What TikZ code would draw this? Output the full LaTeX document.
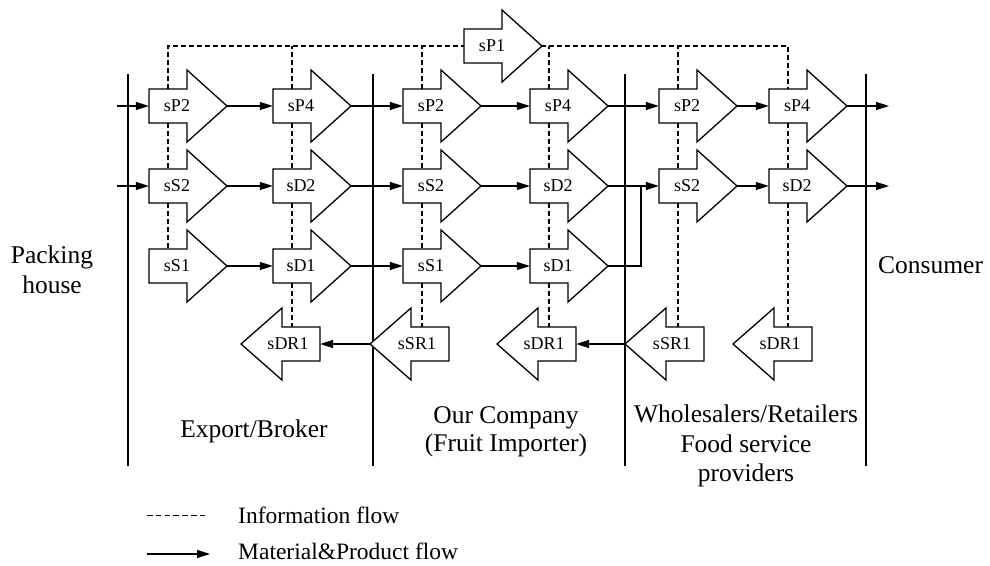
\documentclass[tikz,border=0pt]{standalone}
\usepackage{fontspec}
\setmainfont{Liberation Serif}
\usetikzlibrary{arrows.meta}
\tikzset{
 flow/.style={line width=1.3pt, -{Triangle[length=13pt,width=8pt]}},
 plain/.style={line width=1.3pt},
 info/.style={line width=1.2pt, dash pattern=on 5pt off 3pt},
 bar/.style={line width=1.3pt},
 arrshape/.style={draw, line width=1.3pt, fill=white, line join=miter},
 bodybox/.style={inner sep=0pt, minimum width=38pt, minimum height=34pt},
 lbl/.style={font=\fontsize{18}{20}\selectfont, inner sep=0pt},
 sec/.style={font=\fontsize{25.5}{30}\selectfont, inner sep=0pt},
 leg/.style={font=\fontsize{23.5}{26}\selectfont, inner sep=0pt},
}
% right-pointing block arrow: name, left x, centre y, label
\newcommand\RArr[4]{%
 \draw[arrshape] (#2,#3-17) -- (#2+38,#3-17) -- (#2+38,#3-36) -- (#2+78,#3)
   -- (#2+38,#3+36) -- (#2+38,#3+17) -- (#2,#3+17) -- cycle;
 \node[bodybox] (#1) at (#2+19,#3) {};
 \coordinate (#1-tip) at (#2+78,#3);
 \node[lbl] (#1-l) at (#2+28,#3) {#4};
}
% left-pointing block arrow: name, right x, centre y, label
\newcommand\LArr[4]{%
 \draw[arrshape] (#2,#3-17) -- (#2-38,#3-17) -- (#2-38,#3-36) -- (#2-79,#3)
   -- (#2-38,#3+36) -- (#2-38,#3+17) -- (#2,#3+17) -- cycle;
 \node[bodybox] (#1) at (#2-19,#3) {};
 \coordinate (#1-tip) at (#2-79,#3);
 \node[lbl] (#1-l) at (#2-32,#3) {#4};
}
\begin{document}
\begin{tikzpicture}[x=1pt,y=-1pt]
\useasboundingbox (0,0) rectangle (990,565);

% column separators
\draw[bar] (128,74) -- (128,466);
\draw[bar] (373,74) -- (373,466);
\draw[bar] (625,74) -- (625,466);
\draw[bar] (866,74) -- (866,466);

% column 1
\RArr{P2a}{149}{106}{sP2}
\RArr{P4a}{273}{106}{sP4}
\RArr{S2a}{149}{186}{sS2}
\RArr{D2a}{273}{186}{sD2}
\RArr{S1a}{149}{266}{sS1}
\RArr{D1a}{273}{266}{sD1}
\LArr{DRa}{320}{344}{sDR1}
% column 2
\RArr{P2b}{403}{106}{sP2}
\RArr{P4b}{530}{106}{sP4}
\RArr{S2b}{403}{186}{sS2}
\RArr{D2b}{530}{186}{sD2}
\RArr{S1b}{403}{266}{sS1}
\RArr{D1b}{530}{266}{sD1}
\LArr{SRb}{449}{344}{sSR1}
\LArr{DRb}{576}{344}{sDR1}
% column 3
\RArr{P2c}{659}{106}{sP2}
\RArr{P4c}{769}{106}{sP4}
\RArr{S2c}{659}{186}{sS2}
\RArr{D2c}{769}{186}{sD2}
\LArr{SRc}{704}{344}{sSR1}
\LArr{DRc}{812}{344}{sDR1}

% information flow
\coordinate (top) at (0,46);
\draw[info] (P2a.north) |- (P4c.north |- top) -- (P4c.north);
\draw[info] (P4a.north) -- (P4a.north |- top);
\draw[info] (P2b.north) -- (P2b.north |- top);
\draw[info] (P4b.north) -- (P4b.north |- top);
\draw[info] (P2c.north) -- (P2c.north |- top);
\draw[info] (P2a.south) -- (S2a.north);
\draw[info] (S2a.south) -- (S1a.north);
\draw[info] (P4a.south) -- (D2a.north);
\draw[info] (D2a.south) -- (D1a.north);
\draw[info] (D1a.south) -- (D1a.south |- DRa.north);
\draw[info] (P2b.south) -- (S2b.north);
\draw[info] (S2b.south) -- (S1b.north);
\draw[info] (S1b.south) -- (S1b.south |- SRb.north);
\draw[info] (P4b.south) -- (D2b.north);
\draw[info] (D2b.south) -- (D1b.north);
\draw[info] (D1b.south) -- (D1b.south |- DRb.north);
\draw[info] (P2c.south) -- (S2c.north);
\draw[info] (S2c.south) -- (S2c.south |- SRc.north);
\draw[info] (P4c.south) -- (D2c.north);
\draw[info] (D2c.south) -- (D2c.south |- DRc.north);

\RArr{P1}{464}{46}{sP1}

% material & product flow
\coordinate (in1) at (117,106);
\coordinate (in2) at (117,186);
\coordinate (out1) at (889,106);
\coordinate (out2) at (889,186);
\coordinate (j) at (641,186);
\draw[flow] (in1) -- (P2a.west);
\draw[flow] (P2a-tip) -- (P4a.west);
\draw[flow] (P4a-tip) -- (P2b.west);
\draw[flow] (P2b-tip) -- (P4b.west);
\draw[flow] (P4b-tip) -- (P2c.west);
\draw[flow] (P2c-tip) -- (P4c.west);
\draw[flow] (P4c-tip) -- (out1);
\draw[flow] (in2) -- (S2a.west);
\draw[flow] (S2a-tip) -- (D2a.west);
\draw[flow] (D2a-tip) -- (S2b.west);
\draw[flow] (S2b-tip) -- (D2b.west);
\draw[flow] (D2b-tip) -- (S2c.west);
\draw[flow] (S2c-tip) -- (D2c.west);
\draw[flow] (D2c-tip) -- (out2);
\draw[flow] (S1a-tip) -- (D1a.west);
\draw[flow] (D1a-tip) -- (S1b.west);
\draw[flow] (S1b-tip) -- (D1b.west);
\draw[plain] (D1b-tip) -| (j);
\draw[flow] (SRb-tip) -- (DRa.east);
\draw[flow] (SRc-tip) -- (DRb.east);

% section labels
\node[sec, anchor=base] (pack1) at (52,263) {Packing};
\node[sec, anchor=base] (pack2) at (52,293) {house};
\node[sec, anchor=base west] (cons) at (878,273) {Consumer};
\node[sec, anchor=base] (exp) at (254,437) {Export/Broker};
\node[sec, anchor=base] (our1) at (506,423) {Our Company};
\node[sec, anchor=base] (our2) at (506,451) {(Fruit Importer)};
\node[sec, anchor=base] (ws1) at (746,422) {Wholesalers/Retailers};
\node[sec, anchor=base] (ws2) at (746,452) {Food service};
\node[sec, anchor=base] (ws3) at (746,481) {providers};

% legend
\coordinate (l1a) at (147,515);
\coordinate (l1b) at (208,515);
\coordinate (l2a) at (147,554);
\coordinate (l2b) at (210,554);
\draw[info, line width=1pt, dash pattern=on 5.5pt off 3.3pt] (l1a) -- (l1b);
\draw[flow] (l2a) -- (l2b);
\node[leg, anchor=base west] (legi) at (238,523) {Information flow};
\node[leg, anchor=base west] (legm) at (238,559) {Material\&Product flow};
\end{tikzpicture}
\end{document}
